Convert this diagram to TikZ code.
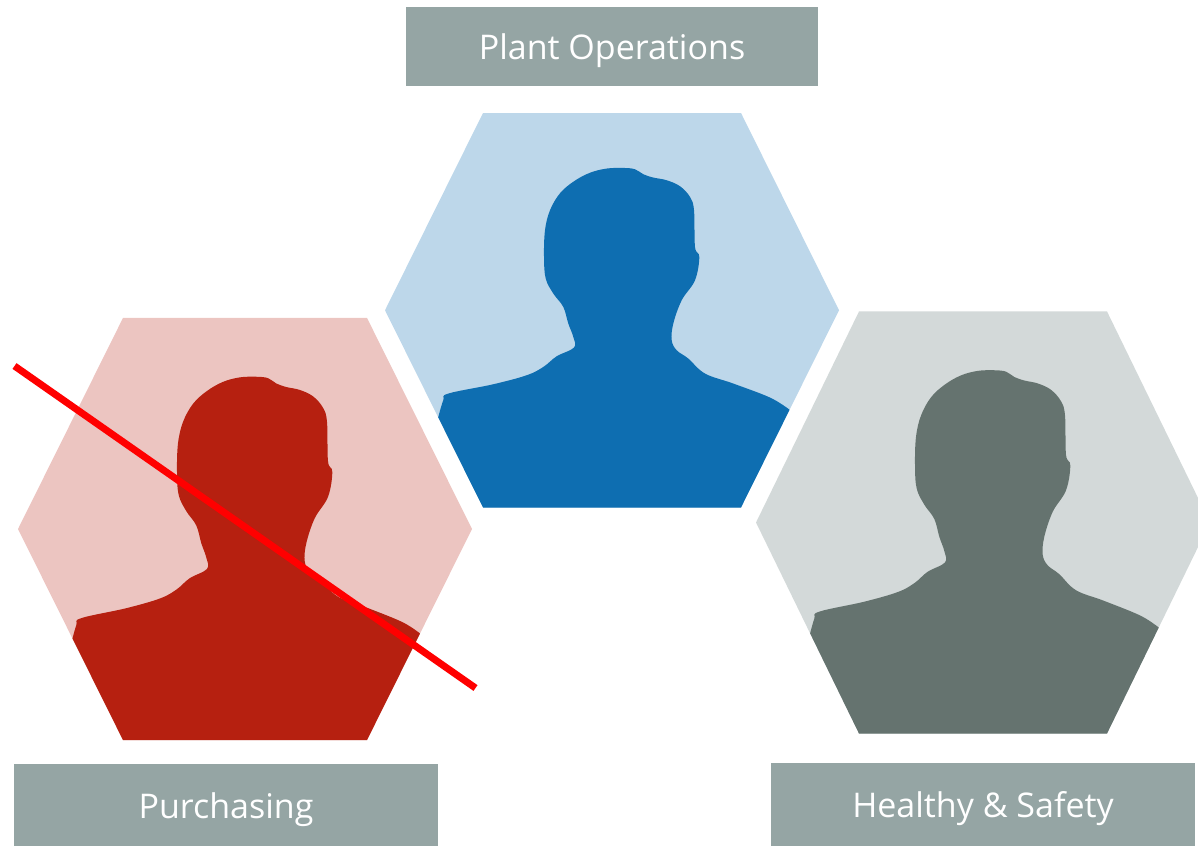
\documentclass[tikz,border=0pt]{standalone}
\usepackage{fontspec}
\setmainfont{Open Sans}
\usepackage{tikz}
\usetikzlibrary{positioning}

\definecolor{labelgrey}{HTML}{95A5A4}
\definecolor{hexblue}{HTML}{BDD7EA}
\definecolor{headblue}{HTML}{0E6EB1}
\definecolor{hexred}{HTML}{ECC5C1}
\definecolor{headred}{HTML}{B62010}
\definecolor{hexgrey}{HTML}{D3D9D9}
\definecolor{headgrey}{HTML}{65736F}

\tikzset{
  pics/person/.style args={#1/#2/#3}{code={
    \fill[#1] (-#3,-197.25) -- (#3,-197.25) -- (227,0) -- (#3,197.25) -- (-#3,197.25) -- (-227,0) -- cycle;
    \begin{scope}
    \clip (-#3,-197.25) -- (#3,-197.25) -- (227,0) -- (#3,197.25) -- (-#3,197.25) -- (-227,0) -- cycle;
    \fill[#2] plot[smooth,tension=0.6] coordinates {
      (-173.7,106.7) (-168.7,90) (-163.7,83.3) (-118.7,74) (-85.3,65) (-68.7,56.7)
      (-55.3,46) (-38,37.3) (-38.7,26.7) (-43.7,13.3) (-48.7,-3.3) (-58.7,-16.7)
      (-66.3,-31.7) (-68,-53.3) (-67,-80) (-62,-100) (-52,-117) (-38,-129)
      (-22,-137.5) (-5.3,-141.7) (11.3,-142.3) (23,-141) (31.3,-136) (41.3,-132.7)
      (54.7,-130) (68,-124) (78,-113.3) (82,-100)
      (83,-63.3) (87.3,-53.3) (83,-30) (69.7,-10) (61.3,13.3) (59.7,30)
      (64.7,40) (76.3,48.3) (93,63.3) (121.3,73.3) (158,87.3) (177.3,99.3)}
      -- (240,197.25) -- (-240,197.25) -- cycle;
    \end{scope}
  }}
}

\begin{document}
\begin{tikzpicture}[x=1pt,y=-1pt]
\tikzstyle{labelbox} = [rectangle,
fill=labelgrey,
text=white,
inner sep=0pt,
text height=34pt,
text depth=8pt,
font=\fontsize{34}{40}\selectfont]

\clip (0,0) rectangle (1198,846);

\pic (plantperson) at (612,310.25) {person={hexblue/headblue/129}};
\pic[yscale=1.07] (purchasingperson) at (245,529) {person={hexred/headred/122}};
\pic[yscale=1.07] (safetyperson) at (983,522.5) {person={hexgrey/headgrey/124}};

\node (plant) [labelbox, minimum width=412pt, minimum height=79pt] at (612,46.5) {Plant Operations};
\node (purchasing) [labelbox, minimum width=424pt, minimum height=82pt] at (226,805) {Purchasing};
\node (safety) [labelbox, minimum width=424pt, minimum height=83pt] at (983,804.5) {Healthy \& Safety};

% crossed out
\coordinate (crossstart) at (14.5,366);
\coordinate (crossend) at (475.5,688);
\draw [red, line width=7pt] (crossstart) -- (crossend);

\end{tikzpicture}
\end{document}
